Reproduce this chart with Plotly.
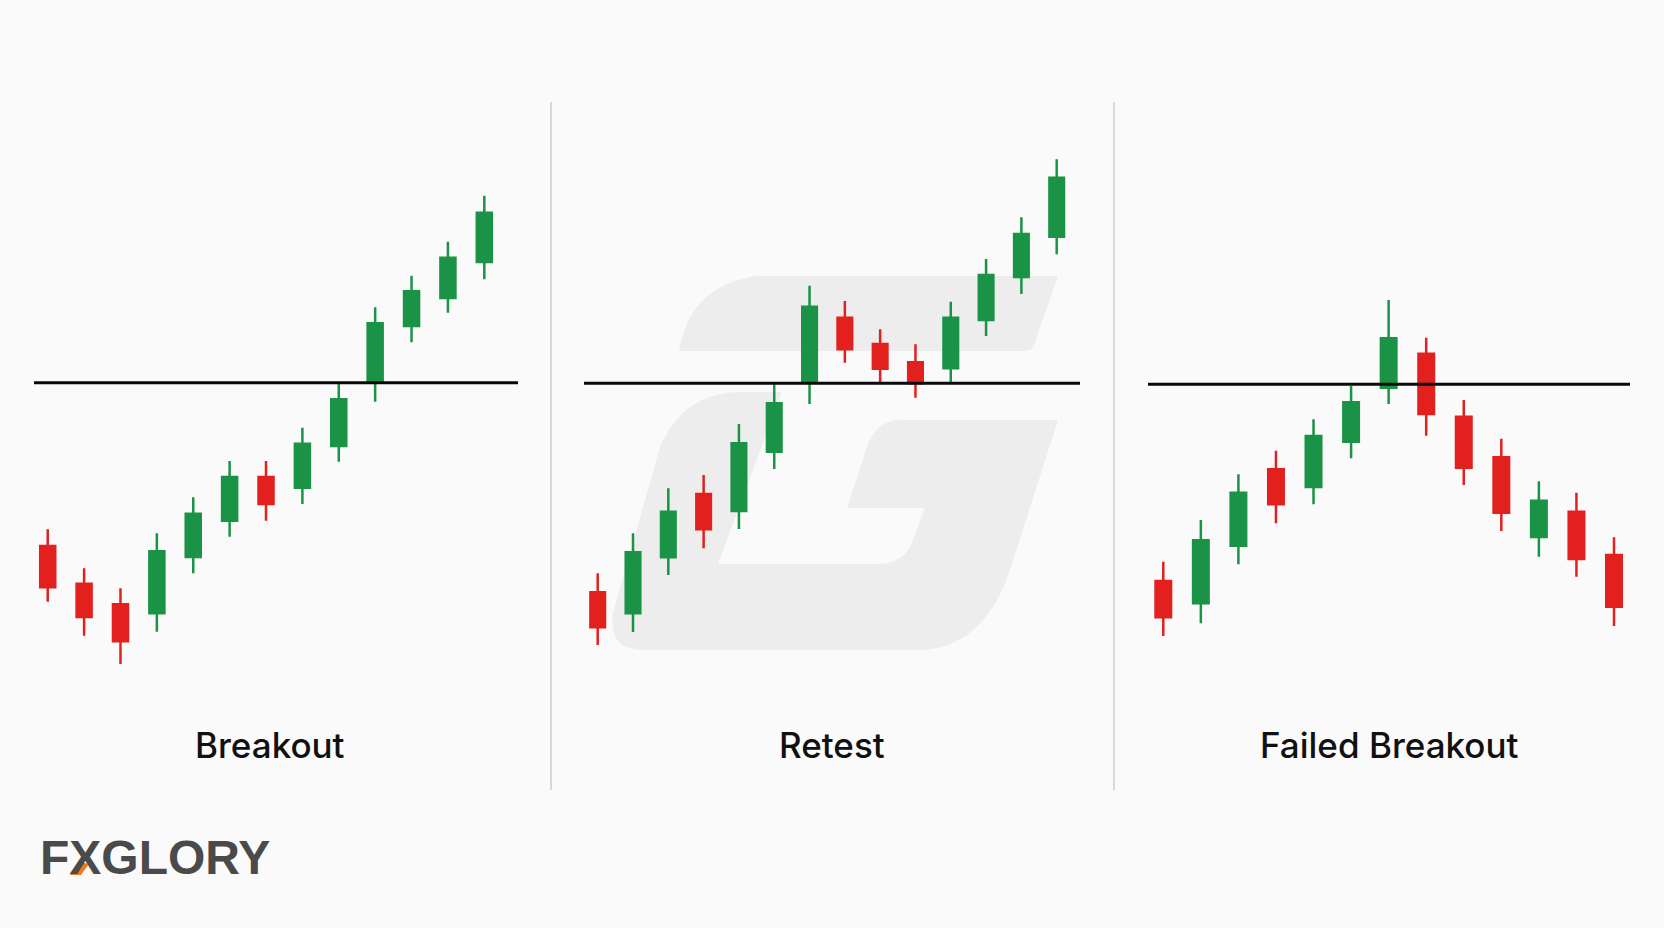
import plotly.graph_objects as go

W, H = 1664, 928

# ---------------- data ----------------
panel_titles = ["Breakout", "Retest", "Failed Breakout"]

# Panel 1: Breakout
bo_open  = [40.2, 28.9, 22.7, 20.0, 36.9, 47.8, 60.9, 57.7, 70.2, 89.4, 106.2, 114.6, 125.4]
bo_high  = [45.2, 33.5, 27.5, 44.0, 54.8, 65.7, 65.7, 75.7, 89.0, 111.8, 121.3, 131.5, 145.3]
bo_low   = [23.5, 13.3, 4.8, 14.5, 32.0, 43.0, 47.8, 52.8, 65.5, 83.5, 101.3, 110.2, 120.2]
bo_close = [27.8, 18.9, 11.6, 38.6, 49.9, 60.9, 52.8, 70.9, 84.2, 107.0, 116.6, 126.7, 140.2]
bo_level = 89.2

# Panel 2: Retest
rt_open  = [14.3, 8.0, 24.8, 43.8, 38.7, 56.5, 77.2, 96.7, 88.8, 83.3, 81.5, 96.0, 108.9, 121.0]
rt_high  = [20.0, 32.0, 45.5, 49.5, 64.8, 76.7, 106.3, 101.7, 93.2, 88.7, 101.5, 114.3, 126.8, 144.2]
rt_low   = [-1.5, 2.4, 19.5, 27.5, 33.3, 51.3, 70.8, 83.2, 77.3, 72.7, 77.3, 91.2, 103.8, 115.7]
rt_close = [3.8, 26.3, 38.5, 33.2, 59.0, 71.0, 100.0, 87.2, 81.4, 77.0, 96.7, 109.5, 121.8, 138.7]
rt_level = 77.0

# Panel 3: Failed Breakout
fb_open  = [59.7, 53.0, 70.3, 93.2, 87.9, 101.5, 117.7, 127.9, 109.0, 96.8, 72.9, 80.5, 67.5]
fb_high  = [65.5, 78.0, 91.7, 98.8, 108.2, 118.2, 144.0, 132.7, 114.0, 102.4, 89.6, 86.2, 72.8]
fb_low   = [43.2, 47.0, 64.7, 77.0, 82.7, 96.5, 112.8, 103.3, 88.5, 74.7, 67.0, 61.0, 46.2]
fb_close = [48.8, 71.9, 86.2, 82.7, 103.2, 113.3, 132.5, 109.8, 93.7, 80.2, 83.8, 66.3, 52.0]
fb_level = 118.7

panels = [
    (bo_open, bo_high, bo_low, bo_close, bo_level),
    (rt_open, rt_high, rt_low, rt_close, rt_level),
    (fb_open, fb_high, fb_low, fb_close, fb_level),
]

# ---------------- style / layout ----------------
GREEN = "#1b9346"
RED = "#e2211f"
BG = "#fafafa"
WM = "#ededed"

def px(x):
    return x / W

def py(y):
    return 1 - y / H

# axis placement (pixels) per panel: x domain, x range, y range
x_domains = [(34, 518), (584, 1080), (1148, 1630)]
x_ranges = [(-0.377, 12.926), (-0.388, 13.66), (-0.407, 12.426)]
y_ranges = [(-6, 174), (-18, 162), (24, 204)]
y_dom = [py(700), py(100)]
title_x = [270, 832, 1389]

fig = go.Figure()
layout = dict(
    width=W, height=H,
    margin=dict(l=0, r=0, t=0, b=0),
    paper_bgcolor=BG, plot_bgcolor="rgba(0,0,0,0)",
    showlegend=False,
    boxgap=0.41,
    shapes=[], annotations=[],
)

for i, (o, h, l, c, lvl) in enumerate(panels):
    n = i + 1
    xa = "x" if n == 1 else f"x{n}"
    ya = "y" if n == 1 else f"y{n}"
    fig.add_trace(go.Candlestick(
        x=list(range(len(o))), open=o, high=h, low=l, close=c,
        xaxis=xa, yaxis=ya,
        increasing=dict(fillcolor=GREEN, line=dict(color=GREEN, width=2.5)),
        decreasing=dict(fillcolor=RED, line=dict(color=RED, width=2.5)),
        whiskerwidth=0, hoverinfo="skip",
    ))
    xk = "xaxis" if n == 1 else f"xaxis{n}"
    yk = "yaxis" if n == 1 else f"yaxis{n}"
    layout[xk] = dict(domain=[px(x_domains[i][0]), px(x_domains[i][1])],
                      range=list(x_ranges[i]), visible=False, fixedrange=True,
                      rangeslider=dict(visible=False), anchor=ya)
    layout[yk] = dict(domain=y_dom, range=list(y_ranges[i]), visible=False,
                      fixedrange=True, anchor=xa)
    # resistance level line
    layout["shapes"].append(dict(
        type="line", xref=f"{xa} domain", yref=ya, x0=0, x1=1, y0=lvl, y1=lvl,
        line=dict(color="#0a0a0a", width=3), layer="above"))
    # panel title
    layout["annotations"].append(dict(
        text=panel_titles[i], xref="paper", yref="paper",
        x=px(title_x[i]), y=py(745), xanchor="center", yanchor="middle",
        showarrow=False, font=dict(family="Inter", size=35, color="#111111", weight=500)))

# separators
for sx in (551, 1114):
    layout["shapes"].append(dict(
        type="line", xref="paper", yref="paper", x0=px(sx), x1=px(sx),
        y0=py(102), y1=py(790), line=dict(color="#d8d8d8", width=2), layer="below"))

# watermark "G" (decorative)
def path(cmds):
    out = []
    for cmd in cmds:
        k = cmd[0]
        pts = cmd[1:]
        s = k + " " + " ".join(f"{px(pts[j]):.5f},{py(pts[j+1]):.5f}" for j in range(0, len(pts), 2))
        out.append(s)
    return " ".join(out) + " Z"

top_band = path([
    ("M", 679, 351), ("Q", 690, 285, 757, 276), ("L", 1058, 276),
    ("L", 1034, 345), ("Q", 1032, 351, 1025, 351),
])
lower_g = path([
    ("M", 740, 392), ("L", 782, 392), ("L", 718, 564), ("L", 877, 564),
    ("Q", 900, 564, 910, 547), ("L", 925, 508), ("L", 847, 508),
    ("L", 867, 447), ("Q", 877, 420, 900, 420), ("L", 1058, 420),
    ("L", 1010, 570), ("Q", 983, 650, 917, 650), ("L", 643, 650),
    ("Q", 608, 650, 613, 613), ("L", 660, 447), ("Q", 683, 393, 740, 392),
])
for p in (top_band, lower_g):
    layout["shapes"].append(dict(type="path", xref="paper", yref="paper", path=p,
                                 fillcolor=WM, line=dict(width=0), layer="below"))

# logo
layout["annotations"].append(dict(
    text="FXGLORY", xref="paper", yref="paper", x=px(38), y=py(857),
    xanchor="left", yanchor="middle", showarrow=False,
    font=dict(family="Liberation Sans", size=48, color="#4a4a4a", weight=700)))

fig.update_layout(**layout)

# orange accent on the logo's X (decorative)
fig.add_shape(type="path", xref="paper", yref="paper", layer="above",
              path=path([("M", 70, 875), ("L", 81, 875), ("L", 89, 864), ("L", 80, 862)]),
              fillcolor="#ef7a23", line=dict(width=0))

fig.write_html("out.html", config={"displayModeBar": False},
               post_script="document.body.style.margin='0';document.body.style.overflow='hidden';")
